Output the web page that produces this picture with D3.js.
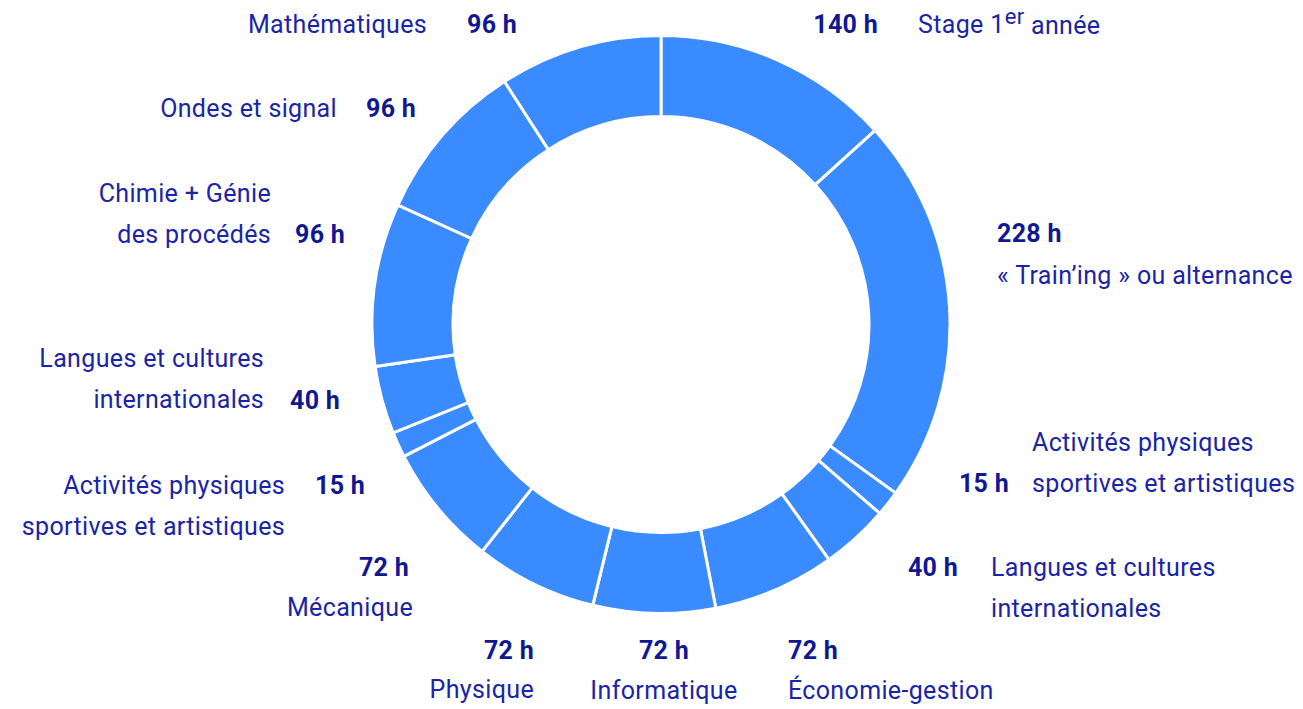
<!DOCTYPE html>
<html>
<head>
<meta charset="utf-8">
<script src="https://cdn.jsdelivr.net/npm/d3@7"></script>
<style>
  html, body { margin: 0; padding: 0; background: #ffffff; }
  svg { display: block; }
  text { font-family: Roboto, "Noto Sans", "DejaVu Sans", sans-serif; }
  .name { font-size: 25px; font-weight: 400; fill: #1a24a6; letter-spacing: 0.35px; }
  .value { font-size: 25px; font-weight: 700; fill: #0f1892; letter-spacing: 0.3px; }
</style>
</head>
<body>
<svg id="chart" width="1303" height="709"></svg>
<script>
// ---- Data ----
const categories = [
  "Stage 1er année",
  "« Train’ing » ou alternance",
  "Activités physiques sportives et artistiques",
  "Langues et cultures internationales",
  "Économie-gestion",
  "Informatique",
  "Physique",
  "Mécanique",
  "Activités physiques sportives et artistiques",
  "Langues et cultures internationales",
  "Chimie + Génie des procédés",
  "Ondes et signal",
  "Mathématiques"
];
const hours = [140, 228, 15, 40, 72, 72, 72, 72, 15, 40, 96, 96, 96];
const nameLines = [
  ["Stage 1|er| année"],
  ["« Train’ing » ou alternance"],
  ["Activités physiques", "sportives et artistiques"],
  ["Langues et cultures", "internationales"],
  ["Économie-gestion"],
  ["Informatique"],
  ["Physique"],
  ["Mécanique"],
  ["Activités physiques", "sportives et artistiques"],
  ["Langues et cultures", "internationales"],
  ["Chimie + Génie", "des procédés"],
  ["Ondes et signal"],
  ["Mathématiques"]
];

// ---- Layout (label placement, not data) ----
const cx = 661, cy = 324.5, outerR = 289, innerR = 208;
// [valueX, valueY, valueAnchor, nameX, nameY(first line), nameAnchor]
const labelLayout = [
  [878, 24, "end",    918, 24, "start"],
  [997, 233, "start", 997, 275, "start"],
  [1009, 483, "end",  1032, 442, "start"],
  [958, 567, "end",   991, 567, "start"],
  [788, 650, "start", 788, 690, "start"],
  [664, 650, "middle",664, 690, "middle"],
  [534, 650, "end",   534, 689, "end"],
  [409, 567, "end",   413, 607, "end"],
  [315, 485, "start", 285, 485, "end"],
  [290, 400, "start", 264, 358, "end"],
  [295, 234, "start", 271, 193, "end"],
  [366, 108, "start", 337, 108, "end"],
  [467, 24, "start",  427, 24, "end"]
];
const lineGap = 41.5;

const svg = d3.select("#chart");
const data = hours.map((h, i) => ({ i, h, name: categories[i] }));

const pie = d3.pie().sort(null).value(d => d.h).startAngle(0).endAngle(2 * Math.PI);
const arc = d3.arc().innerRadius(innerR).outerRadius(outerR);

const g = svg.append("g").attr("transform", `translate(${cx},${cy})`);
g.selectAll("path")
  .data(pie(data))
  .join("path")
  .attr("d", arc)
  .attr("fill", "#3a8bff")
  .attr("stroke", "#ffffff")
  .attr("stroke-width", 3)
  .attr("stroke-linejoin", "miter");

// labels
data.forEach((d, i) => {
  const L = labelLayout[i];
  svg.append("text")
    .attr("class", "value")
    .attr("x", L[0]).attr("y", L[1])
    .attr("dy", "0.35em")
    .attr("text-anchor", L[2])
    .text(d.h + " h");

  nameLines[i].forEach((line, k) => {
    const t = svg.append("text")
      .attr("class", "name")
      .attr("x", L[3]).attr("y", L[4] + k * lineGap)
      .attr("dy", "0.35em")
      .attr("text-anchor", L[5]);
    if (line.includes("|")) {
      const parts = line.split("|");
      t.append("tspan").text(parts[0]);
      t.append("tspan").attr("dy", "-0.4em").attr("font-size", "22px").text(parts[1]);
      t.append("tspan").attr("dy", "0.4em").text(parts[2]);
    } else {
      t.text(line);
    }
  });
});
</script>
</body>
</html>
